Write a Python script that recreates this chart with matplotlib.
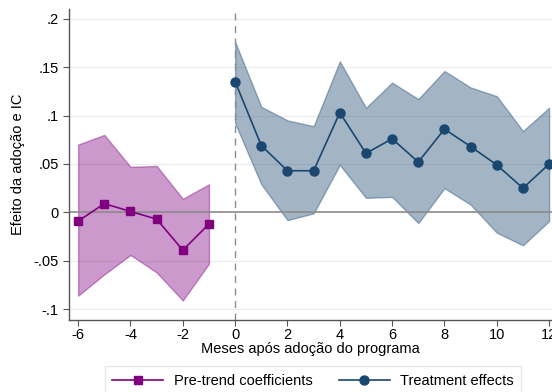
import matplotlib.pyplot as plt
import numpy as np

plt.rcParams['font.family'] = ['Liberation Sans', 'DejaVu Sans']
plt.rcParams['font.size'] = 10
plt.rcParams['axes.unicode_minus'] = False

# pre-trend coefficients and 95% CI
pre_x = [-6, -5, -4, -3, -2, -1]
pre_b = [-0.009, 0.009, 0.001, -0.007, -0.039, -0.012]
pre_lo = [-0.086, -0.064, -0.044, -0.062, -0.091, -0.053]
pre_hi = [0.070, 0.080, 0.047, 0.048, 0.014, 0.029]

# treatment effects and 95% CI
post_x = [0, 1, 2, 3, 4, 5, 6, 7, 8, 9, 10, 11, 12]
post_b = [0.135, 0.069, 0.043, 0.043, 0.103, 0.061, 0.076, 0.052, 0.086, 0.068, 0.049, 0.025, 0.050]
post_lo = [0.092, 0.029, -0.008, -0.001, 0.049, 0.015, 0.016, -0.011, 0.025, 0.008, -0.021, -0.034, -0.009]
post_hi = [0.176, 0.109, 0.095, 0.089, 0.156, 0.108, 0.134, 0.117, 0.146, 0.129, 0.120, 0.084, 0.108]

yticks = [-0.1, -0.05, 0, 0.05, 0.1, 0.15, 0.2]
ylabels = ['-.1', '-.05', '0', '.05', '.1', '.15', '.2']
xticks = [-6, -4, -2, 0, 2, 4, 6, 8, 10, 12]

purple = '#800080'
navy = '#1a4770'

fig = plt.figure(figsize=(5.52, 3.92), dpi=100)
ax = fig.add_axes([0.125, 0.184, 0.875, 0.793])

for y in yticks:
    ax.axhline(y, color='#ececec', lw=0.8, zorder=0)

ax.fill_between(pre_x, pre_lo, pre_hi, color=purple, alpha=0.4, lw=1, edgecolor=purple, zorder=1)
ax.fill_between(post_x, post_lo, post_hi, color=navy, alpha=0.4, lw=1, edgecolor=navy, zorder=1)

ax.axhline(0, color='#8c8c8c', lw=1.2, zorder=2)
ax.axvline(0, color='#8c8c8c', lw=1, ls=(0, (5, 4)), zorder=2)

l1, = ax.plot(pre_x, pre_b, color=purple, lw=1.2, marker='s', ms=6, zorder=3)
l2, = ax.plot(post_x, post_b, color=navy, lw=1.2, marker='o', ms=6.5, zorder=3)

ax.set_xlim(-6.35, 12.11)
ax.set_ylim(-0.111, 0.21)
ax.set_xticks(xticks)
ax.set_yticks(yticks)
ax.set_yticklabels(ylabels)
ax.tick_params(axis='y', length=4, color='#555555', labelsize=10.5)
ax.tick_params(axis='x', length=4, color='#555555', labelsize=10.5, pad=2)
for s in ['top', 'right']:
    ax.spines[s].set_visible(False)
for s in ['left', 'bottom']:
    ax.spines[s].set_color('#555555')
    ax.spines[s].set_linewidth(1)

ax.set_xlabel('Meses após adoção do programa', fontsize=10.5, labelpad=0)
ax.set_ylabel('Efeito da adoção e IC', fontsize=10.5, labelpad=6)

fig.legend([l1, l2], ['Pre-trend coefficients', 'Treatment effects'], ncol=2,
           loc='upper center', bbox_to_anchor=(0.567, 0.064 + 0.02), frameon=True,
           fancybox=False, edgecolor='#e0e0e0', fontsize=10.5, handlelength=3.5,
           handletextpad=0.7, columnspacing=1.8, borderpad=0.5)

fig.savefig('out.png', dpi=100)
